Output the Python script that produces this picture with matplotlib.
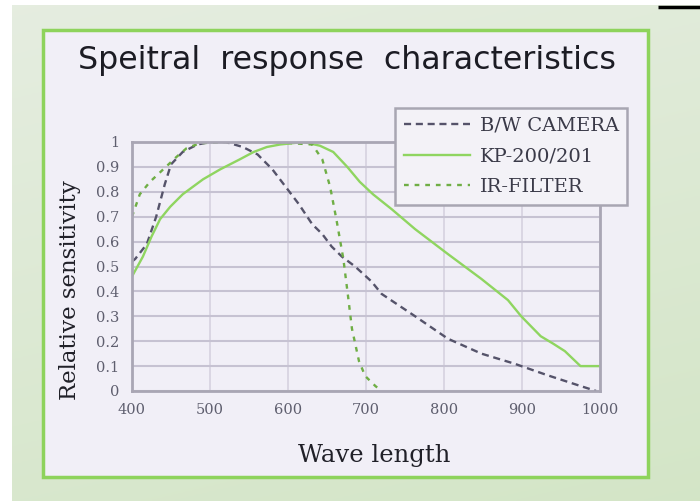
import numpy as np
import matplotlib
matplotlib.use("Agg")
import matplotlib.pyplot as plt
from matplotlib.patches import Rectangle

# Spectral response data (wavelength in nm, relative sensitivity)
bw_wl = [400, 404, 419, 431, 442, 450, 465, 484, 500, 520, 542, 561, 580, 597, 614,
         631, 644, 656, 669, 686, 707, 720, 763, 805, 848, 890, 932, 975, 995]
bw_val = [0.52, 0.53, 0.59, 0.70, 0.83, 0.91, 0.96, 0.99, 1.0, 1.0, 0.98, 0.95, 0.89,
          0.82, 0.75, 0.67, 0.63, 0.58, 0.54, 0.50, 0.44, 0.39, 0.30, 0.21, 0.15,
          0.11, 0.064, 0.02, 0.0]

kp_wl = [400, 414, 425, 436, 449, 465, 491, 513, 538, 556, 573, 590, 620, 641, 658,
         676, 692, 709, 733, 763, 805, 848, 882, 899, 924, 940, 955, 975, 1000]
kp_val = [0.46, 0.54, 0.62, 0.69, 0.74, 0.79, 0.85, 0.89, 0.93, 0.96, 0.98, 0.99, 1.0,
          0.985, 0.96, 0.90, 0.84, 0.79, 0.73, 0.65, 0.55, 0.45, 0.365, 0.30, 0.22,
          0.19, 0.16, 0.10, 0.10]

ir_wl = [400, 410, 423, 440, 457, 470, 487, 520, 580, 631, 644, 654, 662, 671, 677,
         682, 691, 699, 712, 720]
ir_val = [0.70, 0.79, 0.84, 0.89, 0.94, 0.975, 0.995, 1.0, 1.0, 0.99, 0.93, 0.82,
          0.69, 0.53, 0.38, 0.25, 0.12, 0.06, 0.02, 0.0]

series_names = ["B/W CAMERA", "KP-200/201", "IR-FILTER"]
x_ticks = [400, 500, 600, 700, 800, 900, 1000]
y_ticks = [0, 0.1, 0.2, 0.3, 0.4, 0.5, 0.6, 0.7, 0.8, 0.9, 1]
y_tick_labels = ["0", "0.1", "0.2", "0.3", "0.4", "0.5", "0.6", "0.7", "0.8", "0.9", "1"]

W, H = 700, 501
fig = plt.figure(figsize=(7.0, 5.01), dpi=100)

# Background: soft green gradient
bg = fig.add_axes([0, 0, 1, 1], zorder=-10)
bg.set_axis_off()
yy = np.linspace(0, 1, 200)[:, None]
xx = np.linspace(0, 1, 200)[None, :]
top = np.array([0.90, 0.93, 0.88])
bot = np.array([0.83, 0.90, 0.78])
t = (0.75 * yy + 0.25 * xx)[..., None]
grad = top * (1 - t) + bot * t
bg.imshow(grad, extent=[0, W, H, 0], aspect="auto")
bg.set_xlim(0, W)
bg.set_ylim(H, 0)

# White margins along top and left edges
bg.add_patch(Rectangle((0, 0), W, 5, facecolor="white", edgecolor="none"))
bg.add_patch(Rectangle((0, 0), 12, H, facecolor="white", edgecolor="none"))
bg.plot([658, 700], [6.5, 6.5], color="black", lw=2.5, solid_capstyle="butt")

# Framed panel
bg.add_patch(Rectangle((43, 30), 605, 447, facecolor="#f1eff7",
                       edgecolor="#8ed35c", lw=2.5))

fig.text(347 / W, 1 - 61 / H, "Speitral  response  characteristics",
         ha="center", va="center", fontsize=22.8, family="DejaVu Sans",
         color="#1c1c24")

# Plot area
ax = fig.add_axes([132 / W, 1 - 391 / H, (600 - 132) / W, (391 - 142) / H])
ax.set_facecolor("#f1eff7")
ax.set_xlim(400, 1000)
ax.set_ylim(0, 1)
ax.set_xticks(x_ticks)
ax.set_yticks(y_ticks)
ax.set_xticklabels([str(v) for v in x_ticks])
ax.set_yticklabels(y_tick_labels)
ax.grid(True, axis="y", color="#c6c2d2", lw=1.5)
ax.grid(True, axis="x", color="#d6d2e0", lw=1.2)
ax.set_axisbelow(True)
for s in ax.spines.values():
    s.set_color("#a9a6b4")
    s.set_linewidth(2)
ax.tick_params(length=0, pad=9, labelsize=10.5, colors="#5e5e6e")
for lab in ax.get_xticklabels() + ax.get_yticklabels():
    lab.set_family("DejaVu Serif")

ax.plot(bw_wl, bw_val, color="#55536a", lw=1.7, ls=(0, (3, 2)), label=series_names[0])
ax.plot(kp_wl, kp_val, color="#8fd560", lw=1.7, ls="-", label=series_names[1])
ax.plot(ir_wl, ir_val, color="#6fae45", lw=1.7, ls=(0, (2, 2.5)), label=series_names[2])

ax.set_xlabel("Wave length", family="DejaVu Serif", fontsize=17.5, color="#202028")
ax.xaxis.set_label_coords((374 - 132) / (600 - 132), (391 - 444) / (391 - 142))
ax.set_ylabel("Relative sensitivity", family="DejaVu Serif", fontsize=16.5,
              color="#202028")
ax.yaxis.set_label_coords((81 - 132) / (600 - 132), (391 - 290) / (391 - 142))

leg = ax.legend(loc="upper left",
                bbox_to_anchor=((395 - 132) / (600 - 132), (391 - 108) / (391 - 142)),
                frameon=True, fancybox=False, prop={"family": "DejaVu Serif", "size": 14},
                handlelength=3.4, borderpad=0.45, borderaxespad=0,
                labelspacing=0.65, handletextpad=0.5)
fr = leg.get_frame()
fr.set_edgecolor("#a8a6b2")
fr.set_linewidth(1.8)
fr.set_facecolor("#f3f2f7")
fr.set_alpha(1)
for txt in leg.get_texts():
    txt.set_color("#3a3a48")

fig.savefig("out.png", dpi=100)
